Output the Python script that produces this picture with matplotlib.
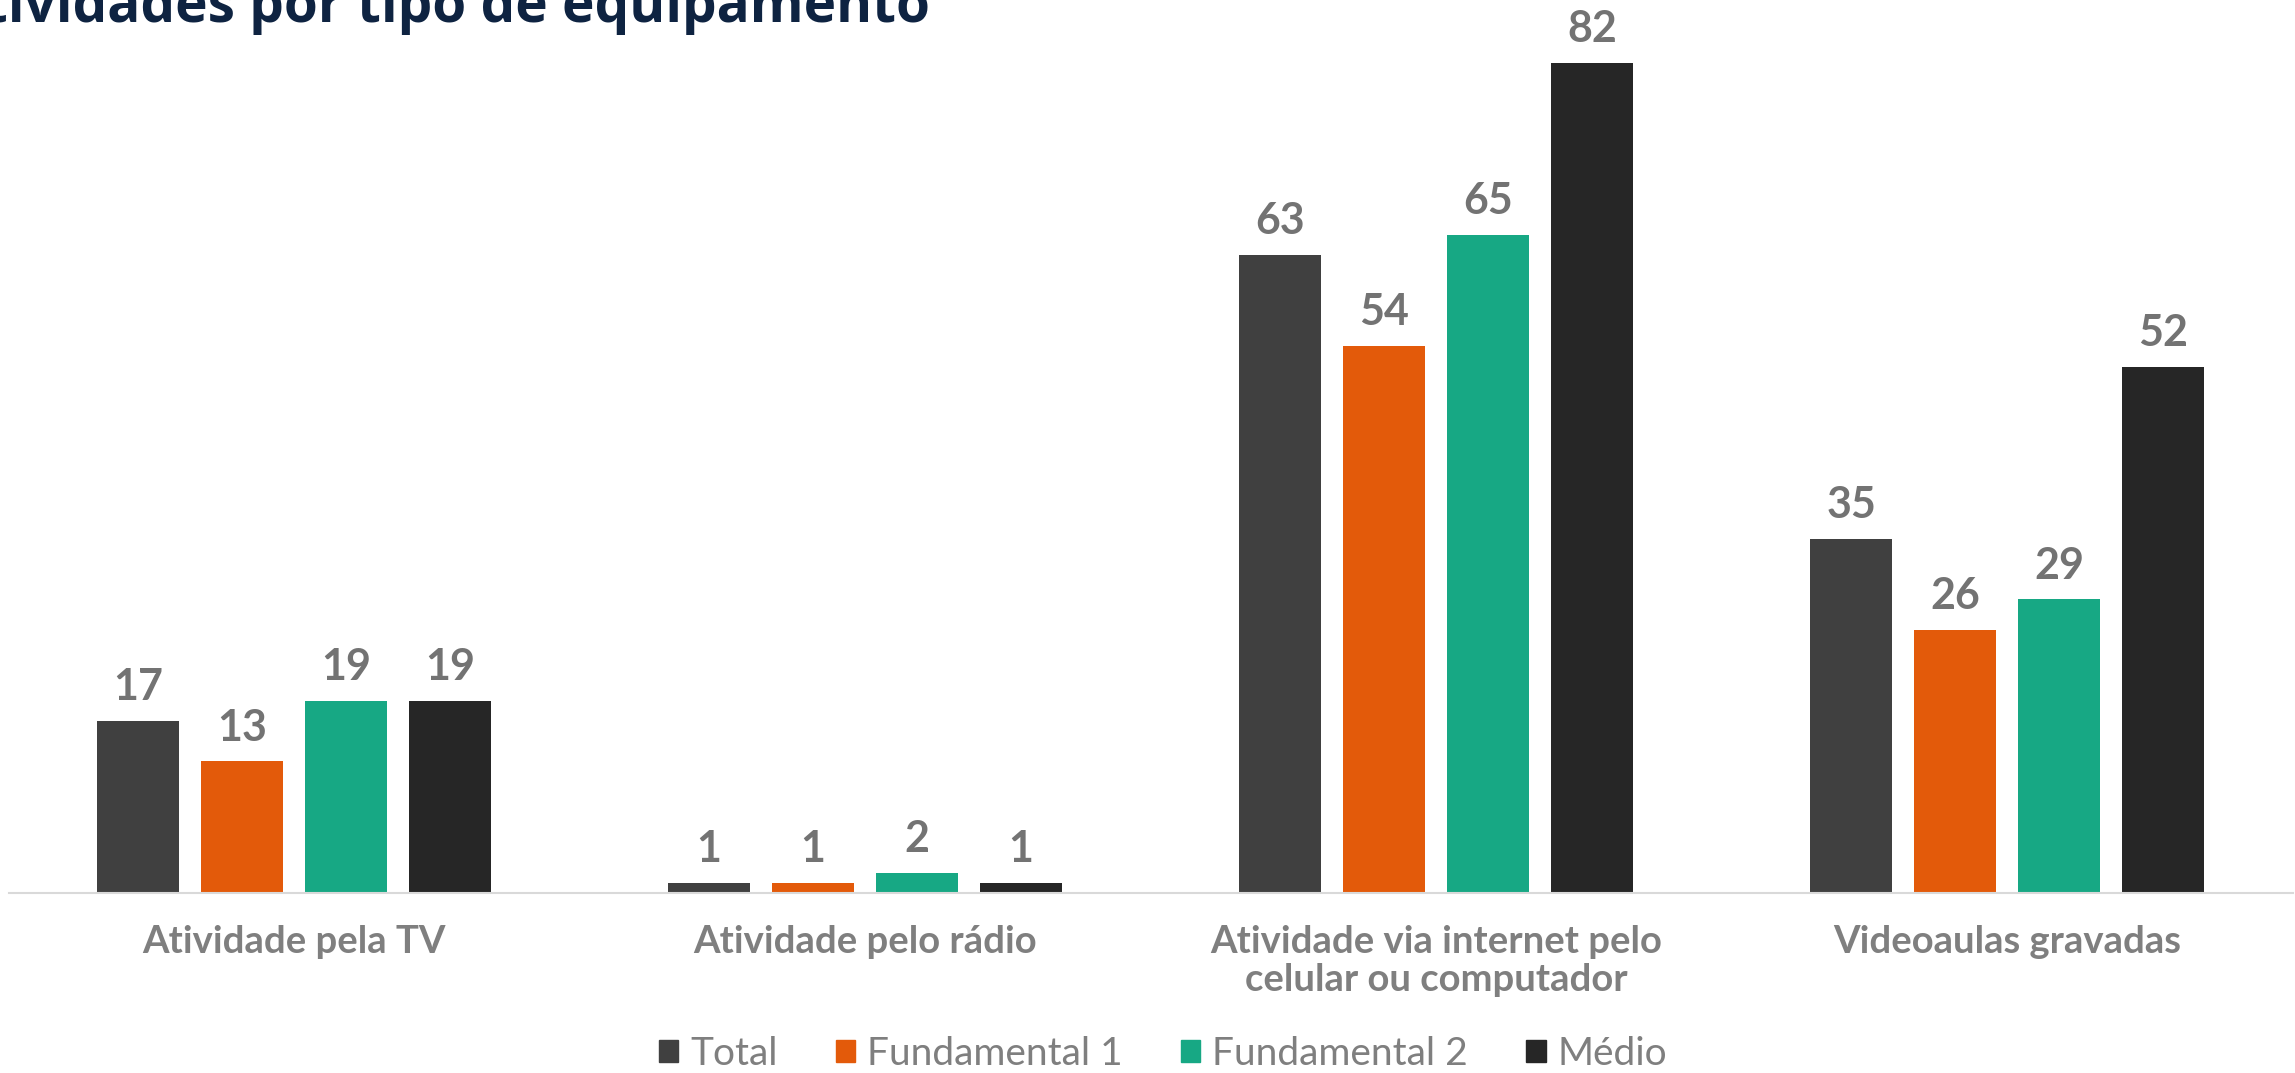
import numpy as np
import matplotlib
matplotlib.use("Agg")
import matplotlib.pyplot as plt
from matplotlib.patches import Patch

# data
categories = ["Atividade pela TV", "Atividade pelo rádio",
              "Atividade via internet pelo\ncelular ou computador", "Videoaulas gravadas"]
series_names = ["Total", "Fundamental 1", "Fundamental 2", "Médio"]
total = [17, 1, 63, 35]
fund1 = [13, 1, 54, 26]
fund2 = [19, 2, 65, 29]
medio = [19, 1, 82, 52]
title = "Atividades por tipo de equipamento"

colors = ["#404040", "#E35A0A", "#17A884", "#262626"]

plt.rcParams["font.family"] = ["Lato", "DejaVu Sans"]

fig = plt.figure(figsize=(22.95, 10.73), dpi=100)
ax = fig.add_axes([8.5 / 2295, 180 / 1073, 2284 / 2295, 893 / 1073])

x = np.arange(len(categories))
step = 0.182
width = 0.1436
for i, (name, vals) in enumerate(zip(series_names, [total, fund1, fund2, medio])):
    pos = x + (i - 1.5) * step
    bars = ax.bar(pos, vals, width, color=colors[i], label=name)
    for b, v in zip(bars, vals):
        ax.annotate(str(v), (b.get_x() + b.get_width() / 2, v),
                    xytext=(0, 15), textcoords="offset points",
                    ha="center", va="baseline", fontsize=31,
                    fontweight="bold", color="#737373")

ax.set_xlim(-0.5, 3.5)
ax.set_ylim(0, 88.2)
ax.set_yticks([])
for s in ["top", "right", "left"]:
    ax.spines[s].set_visible(False)
ax.spines["bottom"].set_color("#D9D9D9")
ax.spines["bottom"].set_linewidth(1.5)
ax.set_xticks(x)
ax.set_xticklabels(categories, fontsize=27.5, fontweight="bold", color="#7F7F7F",
                   linespacing=1.15)
ax.tick_params(axis="x", length=0, pad=23)

handles = [Patch(color=c) for c in colors]
fig.legend(handles, series_names, loc="center", ncol=4,
           bbox_to_anchor=(1163 / 2295, 1 - 1054 / 1073), frameon=False,
           fontsize=28, handlelength=0.5, handleheight=0.5,
           handletextpad=0.3, columnspacing=1.5, labelcolor="#7F7F7F")

fig.text(930 / 2295, 1 - 22 / 1073, title, ha="right", va="baseline",
         fontsize=39.5, fontweight="bold", color="#0E2341",
         family=["Open Sans", "DejaVu Sans"])

fig.savefig("out.png", dpi=100)
